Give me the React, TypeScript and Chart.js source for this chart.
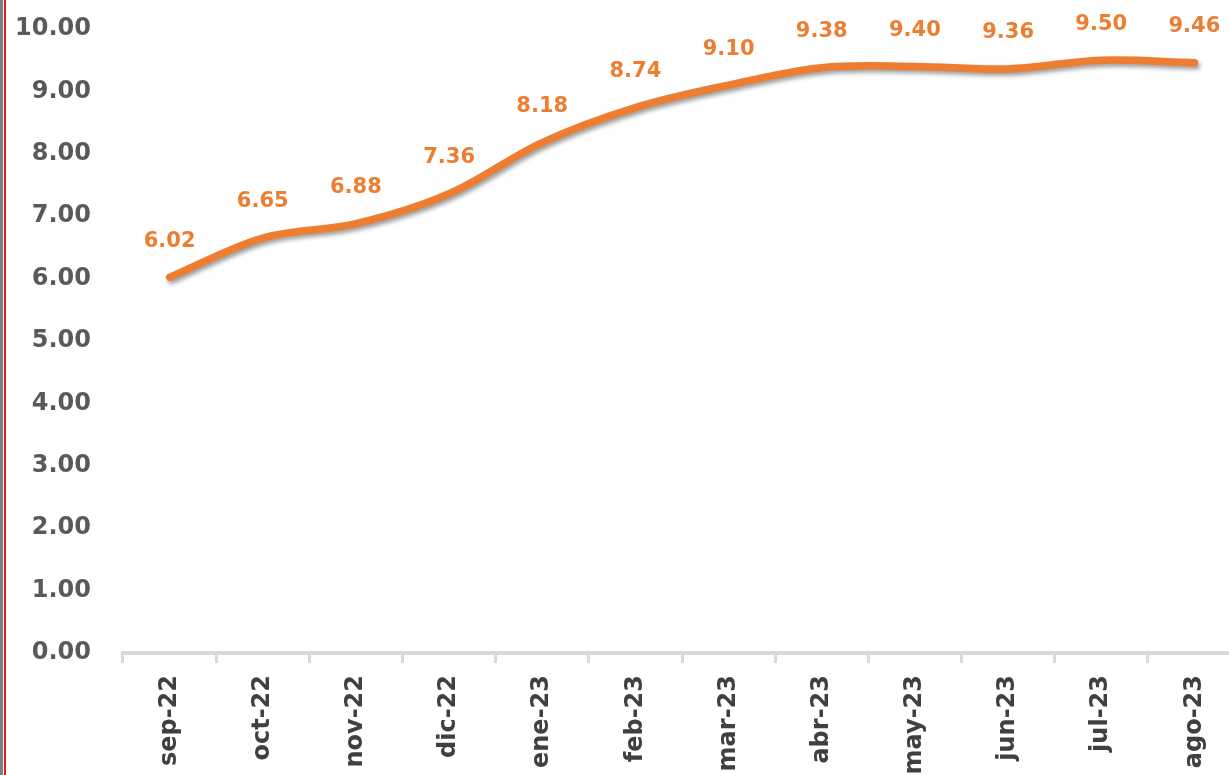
import React, { useEffect, useRef } from "react";
import { Chart, registerables } from "chart.js";

Chart.register(...registerables);

const categories = [
  "sep-22", "oct-22", "nov-22", "dic-22", "ene-23", "feb-23",
  "mar-23", "abr-23", "may-23", "jun-23", "jul-23", "ago-23",
];
const values = [6.02, 6.65, 6.88, 7.36, 8.18, 8.74, 9.1, 9.38, 9.4, 9.36, 9.5, 9.46];
const yMin = 0;
const yMax = 10;
const yStep = 1;

const ORANGE = "#ED7D31";
const FONT = "'DejaVu Sans', sans-serif";

const shadowPlugin = {
  id: "lineShadow",
  beforeDatasetsDraw(chart: any) {
    const ctx = chart.ctx;
    ctx.save();
    ctx.shadowColor = "rgba(0,0,0,0.38)";
    ctx.shadowBlur = 4;
    ctx.shadowOffsetX = 2;
    ctx.shadowOffsetY = 3;
  },
  afterDatasetsDraw(chart: any) {
    chart.ctx.restore();
  },
};

const labelPlugin = {
  id: "valueLabels",
  afterDraw(chart: any) {
    const ctx = chart.ctx;
    const meta = chart.getDatasetMeta(0);
    const data = chart.data.datasets[0].data as number[];
    ctx.save();
    ctx.font = `bold 21px ${FONT}`;
    ctx.fillStyle = ORANGE;
    ctx.textAlign = "center";
    ctx.textBaseline = "middle";
    meta.data.forEach((pt: any, i: number) => {
      ctx.fillText(data[i].toFixed(2), pt.x, pt.y - 36);
    });
    ctx.restore();
  },
};

export default function App() {
  const ref = useRef<HTMLCanvasElement | null>(null);

  useEffect(() => {
    if (!ref.current) return;
    const chart = new Chart(ref.current, {
      type: "line",
      data: {
        labels: categories,
        datasets: [
          {
            data: values,
            borderColor: ORANGE,
            borderWidth: 7.5,
            tension: 0.35,
            pointRadius: 0,
            pointHoverRadius: 0,
            borderCapStyle: "round",
            borderJoinStyle: "round",
            fill: false,
          },
        ],
      },
      options: {
        animation: false,
        responsive: true,
        maintainAspectRatio: false,
        layout: { padding: { top: 29, right: 4, left: 0, bottom: 0 } },
        plugins: {
          legend: { display: false },
          tooltip: { enabled: false },
        },
        scales: {
          x: {
            type: "category",
            offset: true,
            afterFit: (s: any) => {
              s.height = 775 - 653;
              s.paddingLeft = 0;
              s.paddingRight = 0;
              s.paddingTop = 0;
              s.paddingBottom = 0;
            },
            grid: {
              display: true,
              drawOnChartArea: false,
              drawTicks: true,
              offset: true,
              tickLength: 10,
              tickWidth: 3,
              tickColor: "#D9D9D9",
              color: "#D9D9D9",
              lineWidth: 3,
            },
            border: { display: true, color: "#D9D9D9", width: 4 },
            ticks: {
              minRotation: 90,
              maxRotation: 90,
              autoSkip: false,
              padding: 12,
              color: "#404040",
              font: { family: FONT, size: 24, weight: "bold" },
            },
          },
          y: {
            min: yMin,
            max: yMax,
            afterFit: (s: any) => {
              s.width = 123;
              s.paddingTop = 0;
              s.paddingBottom = 0;
              s.paddingLeft = 0;
              s.paddingRight = 0;
            },
            grid: { display: false },
            border: { display: false },
            ticks: {
              stepSize: yStep,
              padding: 24,
              color: "#595959",
              font: { family: FONT, size: 24, weight: "bold" },
              callback: (v: any) => Number(v).toFixed(2),
            },
          },
        },
      },
      plugins: [shadowPlugin, labelPlugin],
    });
    return () => chart.destroy();
  }, []);

  return (
    <div
      style={{
        position: "fixed",
        left: 0,
        top: 0,
        width: 1229,
        height: 775,
        overflow: "hidden",
        background: "#ffffff",
      }}
    >
      <div style={{ position: "absolute", left: 0, top: 0, width: 3, height: 775, background: "#808080" }} />
      <div style={{ position: "absolute", left: 4, top: 0, width: 2, height: 775, background: "#E02020" }} />
      <div style={{ position: "absolute", left: 0, top: 0, width: 1245, height: 775 }}>
        <canvas ref={ref} />
      </div>
    </div>
  );
}
